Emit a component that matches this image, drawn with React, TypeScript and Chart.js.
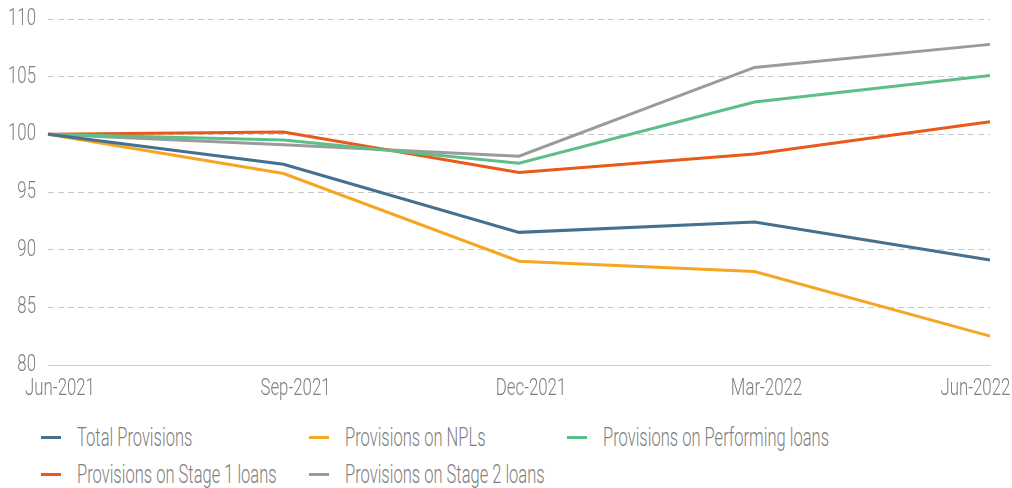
import React, { useEffect, useRef } from 'react';
import { Chart, registerables } from 'chart.js';

Chart.register(...registerables);

const categories = ['Jun-2021', 'Sep-2021', 'Dec-2021', 'Mar-2022', 'Jun-2022'];
const totalProvisions = [100, 97.4, 91.5, 92.4, 89.1];
const nplProvisions = [100, 96.6, 89.0, 88.1, 82.5];
const performingProvisions = [100, 99.5, 97.5, 102.8, 105.1];
const stage1Provisions = [100, 100.2, 96.7, 98.3, 101.1];
const stage2Provisions = [100, 99.1, 98.1, 105.8, 107.8];

const seriesNames = [
  'Total Provisions',
  'Provisions on NPLs',
  'Provisions on Performing loans',
  'Provisions on Stage 1 loans',
  'Provisions on Stage 2 loans',
];
const seriesColors = ['#45708f', '#f5a623', '#5cbf8a', '#e8591a', '#9b9b9b'];
const seriesValues = [totalProvisions, nplProvisions, performingProvisions, stage1Provisions, stage2Provisions];

const yMin = 80;
const yMax = 110;
const yStep = 5;

const FONT = 'Roboto, "Liberation Sans", sans-serif';
const TEXT_COLOR = '#7f7f7f';
const TICK_SIZE = 24;
const TICK_CONDENSE = 0.7;
const LEGEND_SIZE = 26;

function measure(text: string, font: string): number {
  const ctx = document.createElement('canvas').getContext('2d');
  if (!ctx) return text.length * 8;
  ctx.font = font;
  return ctx.measureText(text).width;
}

export default function App() {
  const canvasRef = useRef<HTMLCanvasElement | null>(null);

  useEffect(() => {
    document.body.style.margin = '0';
    const canvas = canvasRef.current;
    if (!canvas) return;
    const ctx2d = canvas.getContext('2d') as any;
    if (ctx2d && !ctx2d.__condensed) {
      // emulate a condensed typeface for the axis labels
      const orig = ctx2d.fillText;
      ctx2d.fillText = function (text: string, x: number, y: number, maxWidth?: number) {
        const w = this.measureText(text).width * TICK_CONDENSE;
        const mw = maxWidth !== undefined ? Math.min(maxWidth, w) : w;
        return orig.call(this, text, x, y, Math.max(mw, 1));
      };
      ctx2d.__condensed = true;
    }

    const tickFont = `300 ${TICK_SIZE}px ${FONT}`;
    const lastLabel = categories[categories.length - 1];
    const lastW = measure(lastLabel, tickFont) * TICK_CONDENSE;
    const spaceW = (measure(' ', tickFont) || 6) * TICK_CONDENSE;
    const naturalCenter = 990 + 12;
    const wantedCenter = 1010 - lastW / 2;
    const shift = Math.max(0, naturalCenter - wantedCenter);
    const nSpaces = Math.round((2 * shift) / spaceW);

    const chart = new Chart(canvas, {
      type: 'line',
      data: {
        labels: categories,
        datasets: seriesValues.map((vals, i) => ({
          label: seriesNames[i],
          data: vals,
          borderColor: seriesColors[i],
          backgroundColor: seriesColors[i],
          borderWidth: 3,
          pointRadius: 0,
          tension: 0,
          fill: false,
        })),
      },
      options: {
        animation: false,
        responsive: false,
        maintainAspectRatio: false,
        layout: { padding: { top: 19, right: 22, left: 0, bottom: 0 } },
        plugins: {
          legend: { display: false },
          tooltip: { enabled: false },
        },
        scales: {
          x: {
            offset: false,
            grid: { display: false, drawTicks: false },
            border: { display: true, color: '#cccccc', width: 1 },
            ticks: {
              color: TEXT_COLOR,
              font: { family: FONT, size: TICK_SIZE, weight: '300' },
              padding: 10,
              labelOffset: 12,
              maxRotation: 0,
              autoSkip: false,
              callback: (_v: any, idx: number) =>
                idx === categories.length - 1 ? categories[idx] + ' '.repeat(nSpaces) : categories[idx],
            },
            afterFit: (scale: any) => {
              scale.height = 35;
              scale.paddingLeft = 0;
              scale.paddingRight = 0;
            },
          },
          y: {
            min: yMin,
            max: yMax,
            grid: { color: '#c8c8c8', lineWidth: 1, drawTicks: false },
            border: { display: false, dash: [6, 4] },
            ticks: {
              stepSize: yStep,
              color: TEXT_COLOR,
              font: { family: FONT, size: TICK_SIZE, weight: '300' },
              padding: 12,
            },
            afterFit: (scale: any) => {
              scale.width = 48;
              scale.paddingTop = 0;
              scale.paddingBottom = 0;
            },
          },
        },
      },
    });
    return () => chart.destroy();
  }, []);

  const columns = [41, 309, 567];
  const legendFont = `300 ${LEGEND_SIZE}px ${FONT}`;
  const refW = measure('Provisions on Performing loans', legendFont);
  const legendScale = refW > 0 ? 226 / refW : 1;

  return (
    <div style={{ position: 'relative', width: 1012, height: 488, background: '#fff', overflow: 'hidden' }}>
      <canvas ref={canvasRef} width={1012} height={400} style={{ position: 'absolute', left: 0, top: 0 }} />
      {seriesNames.map((name, i) => {
        const row = i < 3 ? 0 : 1;
        const col = i < 3 ? i : i - 3;
        return (
          <div
            key={name}
            style={{
              position: 'absolute',
              left: columns[col],
              top: 419 + row * 37,
              height: 36,
              display: 'flex',
              alignItems: 'center',
              whiteSpace: 'nowrap',
            }}
          >
            <span style={{ display: 'inline-block', width: 20, height: 3, background: seriesColors[i], marginRight: 16 }} />
            <span
              style={{
                fontFamily: FONT,
                fontWeight: 300,
                fontSize: LEGEND_SIZE,
                lineHeight: '36px',
                color: TEXT_COLOR,
                display: 'inline-block',
                transform: `scaleX(${legendScale})`,
                transformOrigin: 'left center',
              }}
            >
              {name}
            </span>
          </div>
        );
      })}
    </div>
  );
}
